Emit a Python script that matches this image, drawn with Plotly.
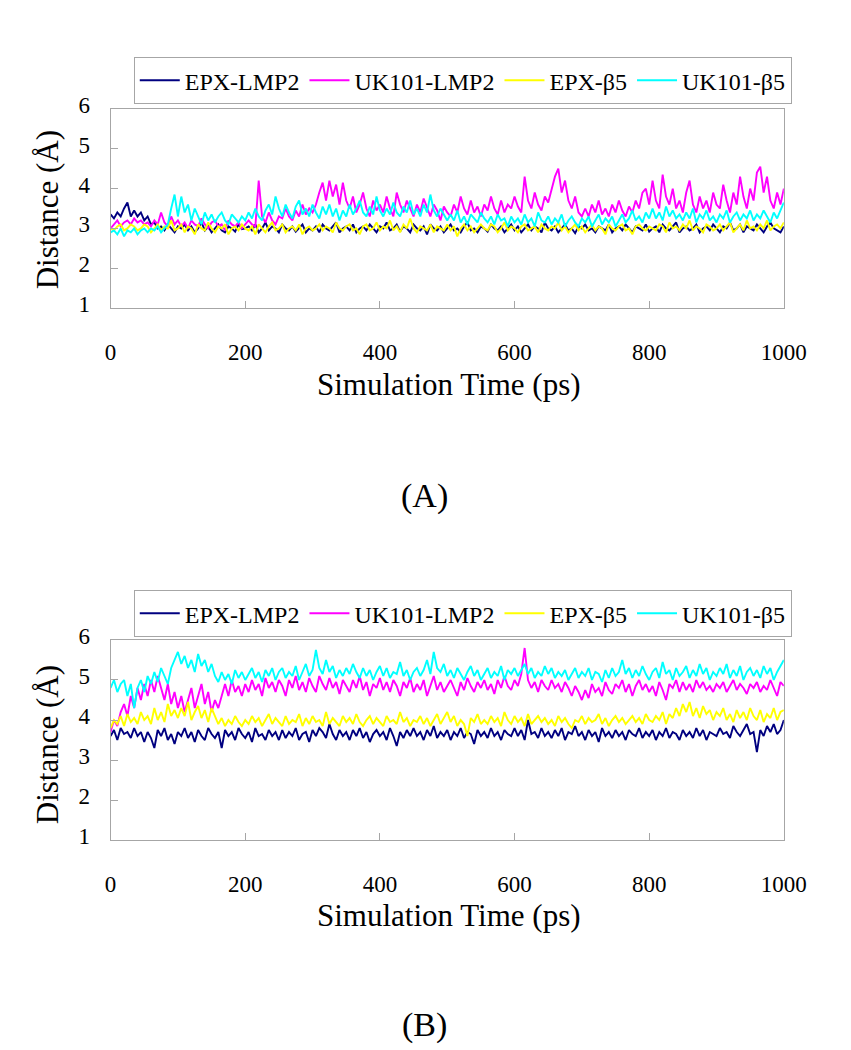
import plotly.graph_objects as go

# ---------------- data ----------------
time_ps = list(range(0, 1001, 5))
series_names = ["EPX-LMP2", "UK101-LMP2", "EPX-β5", "UK101-β5"]
series_colors = ["#000080", "#FF00FF", "#FFFF00", "#00FFFF"]

A_EPX_LMP2 = [3.35,3.25,3.4,3.3,3.5,3.65,3.3,3.45,3.3,3.4,3.2,
    3.3,3.1,3.15,3.0,3.05,2.95,3.1,3.0,2.9,3.05,
    3.0,3.1,2.95,3.05,2.9,3.0,3.15,2.95,3.05,2.9,
    3.0,3.1,2.95,2.9,3.05,3.0,2.92,3.1,2.98,3.0,
    3.05,2.95,3.1,2.9,3.0,3.15,2.95,3.05,3.0,2.9,
    3.1,3.0,2.95,3.05,2.92,3.0,3.1,2.9,3.0,2.95,
    3.05,2.9,3.1,3.0,2.95,3.05,3.15,2.9,3.0,3.05,
    2.95,3.1,2.9,3.0,3.05,2.95,3.1,3.0,2.9,3.05,
    3.0,3.15,2.95,3.0,3.1,2.92,3.05,3.0,2.9,3.1,
    3.0,2.95,3.05,2.85,3.1,3.0,2.95,3.05,2.9,3.0,
    3.1,2.95,3.0,2.9,3.05,3.15,2.95,3.0,2.9,3.05,
    3.0,2.92,3.1,3.0,2.95,3.05,2.9,3.0,3.1,2.95,
    3.05,2.9,3.0,3.1,2.95,3.05,3.0,2.9,3.15,3.0,
    2.95,3.05,2.9,3.0,3.1,2.95,3.0,2.88,3.05,3.0,
    3.1,2.95,3.0,2.9,3.05,3.0,2.95,3.1,2.9,3.0,
    3.05,2.95,3.1,3.0,2.9,3.05,3.0,2.95,3.1,2.92,
    3.0,3.05,2.9,3.1,3.0,2.95,3.05,3.15,2.9,3.0,
    3.05,2.95,3.0,3.1,2.9,3.0,3.05,2.95,3.1,3.0,
    2.9,3.05,3.0,3.15,2.95,3.0,3.1,2.9,3.05,3.0,
    2.95,3.1,3.0,2.9,3.05,3.15,3.0,2.95,2.9,3.05]

A_UK101_LMP2 = [3.0,3.1,3.2,3.05,3.15,3.2,3.1,3.25,3.15,3.2,3.1,
    3.15,3.05,3.2,3.1,3.4,3.15,3.05,3.3,3.1,3.2,
    3.05,3.15,3.0,3.2,3.1,3.05,3.25,3.1,3.0,3.15,
    3.2,3.05,3.1,2.95,3.2,3.1,3.05,3.15,3.0,3.1,
    3.2,3.1,3.05,4.2,3.3,3.15,3.4,3.2,3.1,3.3,
    3.25,3.5,3.3,3.2,3.45,3.3,3.6,3.35,3.5,3.4,
    3.6,3.9,4.15,3.7,4.2,3.8,4.1,3.6,4.15,3.7,
    3.5,3.8,3.4,3.6,3.9,3.5,3.3,3.7,3.45,3.6,
    3.4,3.8,3.5,3.3,3.9,3.6,3.4,3.7,3.5,3.3,
    3.6,3.4,3.75,3.5,3.3,3.6,3.45,3.2,3.55,3.4,
    3.3,3.6,3.4,3.8,3.5,3.35,3.7,3.4,3.55,3.3,
    3.6,3.45,3.8,3.5,3.35,3.7,3.4,3.6,3.5,3.8,
    3.55,3.4,4.3,3.7,3.5,3.9,3.6,3.45,3.8,3.65,
    4.0,4.3,4.5,3.9,4.2,3.7,3.5,3.8,3.4,3.3,
    3.5,3.3,3.6,3.4,3.7,3.35,3.5,3.3,3.6,3.4,
    3.7,3.45,3.3,3.55,3.4,3.7,3.5,3.9,4.0,3.6,
    4.2,3.7,3.5,4.35,3.8,3.6,4.0,3.5,3.7,3.4,
    3.9,4.2,3.6,3.4,3.8,3.5,3.7,3.4,3.9,3.6,
    3.5,4.1,3.7,3.4,3.9,3.6,4.3,3.8,3.5,4.0,
    3.7,4.4,4.55,3.9,4.3,3.7,3.5,3.9,3.6,4.0]

A_EPX_b5 = [3.0,2.95,3.05,3.1,2.95,3.0,3.1,3.05,2.95,3.0,3.1,
    3.05,2.9,3.0,3.1,2.95,3.05,3.0,3.2,2.95,3.0,
    3.1,2.9,3.05,3.0,2.85,3.1,3.0,2.95,3.15,3.0,
    2.9,3.05,3.0,3.1,2.85,3.0,3.05,2.95,3.1,3.0,
    2.95,3.05,2.85,3.1,3.0,2.9,3.05,3.15,2.95,3.0,
    3.1,2.9,3.0,3.05,2.95,3.1,2.85,3.0,3.05,2.95,
    3.0,3.1,2.95,3.05,3.0,2.9,3.15,3.0,2.95,3.05,
    3.1,2.95,3.0,2.85,3.05,3.1,2.95,3.0,3.15,2.95,
    3.05,3.0,3.2,2.95,3.05,2.9,3.1,3.0,3.25,3.0,
    2.9,3.05,3.0,2.95,3.1,2.9,3.05,3.0,2.95,3.1,
    2.95,3.05,2.8,3.0,3.1,2.95,3.05,2.9,3.0,3.1,
    3.0,2.95,3.1,3.05,2.9,3.0,3.15,2.95,3.05,3.0,
    2.9,3.05,3.1,2.95,3.0,3.05,2.9,3.1,3.0,2.95,
    3.05,3.0,3.15,2.95,3.05,2.9,3.0,3.1,2.95,3.05,
    2.9,3.0,3.1,2.95,3.05,3.0,2.85,3.1,3.0,2.95,
    3.05,3.1,2.95,3.0,2.85,3.05,3.1,3.0,2.95,3.05,
    3.0,2.95,3.1,3.05,2.9,3.15,3.0,3.05,2.95,3.1,
    3.0,3.2,2.95,3.05,3.0,2.9,3.1,3.05,2.95,3.0,
    3.1,2.95,3.05,3.15,2.9,3.0,3.1,2.95,3.2,3.0,
    3.05,2.95,3.1,3.0,3.2,2.95,3.05,3.1,3.0,3.15]

A_UK101_b5 = [2.9,2.95,2.85,3.0,2.8,2.95,2.9,3.0,2.85,2.95,3.0,
    2.9,3.0,2.95,3.05,2.9,3.0,3.1,3.5,3.85,3.3,
    3.8,3.4,3.6,3.2,3.5,3.3,3.1,3.4,3.2,3.35,
    3.15,3.3,3.4,3.2,3.1,3.35,3.25,3.15,3.3,3.2,
    3.4,3.25,3.5,3.3,3.2,3.45,3.6,3.35,3.8,3.5,
    3.3,3.6,3.4,3.25,3.55,3.7,3.35,3.5,3.3,3.6,
    3.4,3.25,3.55,3.35,3.6,3.3,3.5,3.2,3.45,3.3,
    3.6,3.35,3.5,3.7,3.4,3.3,3.55,3.35,3.8,3.45,
    3.3,3.5,3.35,3.65,3.4,3.3,3.55,3.4,3.7,3.35,
    3.5,3.3,3.6,3.4,3.85,3.45,3.3,3.5,3.35,3.2,
    3.35,3.2,3.45,3.15,3.3,3.1,3.35,3.25,3.15,3.4,
    3.25,3.15,3.3,3.1,3.35,3.2,3.25,3.05,3.3,3.15,
    3.25,3.1,3.35,3.15,3.25,3.05,3.4,3.2,3.15,3.3,
    3.1,3.25,3.15,3.35,3.05,3.2,3.3,3.15,3.05,3.25,
    3.15,3.3,3.05,3.2,3.35,3.1,3.25,3.15,3.3,3.05,
    3.2,3.35,3.15,3.25,3.45,3.2,3.3,3.15,3.4,3.25,
    3.5,3.25,3.4,3.2,3.55,3.3,3.45,3.25,3.35,3.2,
    3.4,3.25,3.5,3.15,3.35,3.25,3.45,3.2,3.3,3.15,
    3.35,3.25,3.45,3.15,3.3,3.4,3.2,3.35,3.25,3.45,
    3.2,3.35,3.25,3.45,3.3,3.15,3.4,3.25,3.45,3.65]

B_EPX_LMP2 = [3.6,3.75,3.5,3.8,3.65,3.7,3.55,3.8,3.6,3.7,3.45,
    3.7,3.55,3.3,3.75,3.6,3.8,3.5,3.65,3.4,3.7,
    3.6,3.8,3.55,3.7,3.45,3.75,3.6,3.5,3.8,3.65,
    3.55,3.7,3.3,3.75,3.6,3.7,3.5,3.8,3.65,3.55,
    3.7,3.45,3.8,3.6,3.65,3.5,3.75,3.6,3.7,3.5,
    3.75,3.55,3.7,3.6,3.8,3.5,3.65,3.7,3.45,3.75,
    3.6,3.8,3.7,3.55,3.9,3.65,3.5,3.75,3.6,3.7,
    3.5,3.75,3.6,3.8,3.55,3.7,3.45,3.65,3.75,3.6,
    3.7,3.5,3.8,3.6,3.35,3.7,3.55,3.75,3.6,3.8,
    3.6,3.7,3.5,3.75,3.6,3.85,3.55,3.7,3.6,3.75,
    3.5,3.7,3.6,3.8,3.55,3.7,3.65,3.4,3.75,3.6,
    3.7,3.55,3.8,3.6,3.7,3.5,3.75,3.65,3.6,3.8,
    3.6,3.75,3.5,4.0,3.65,3.7,3.55,3.8,3.6,3.7,
    3.55,3.75,3.6,3.8,3.5,3.7,3.65,3.85,3.6,3.7,
    3.5,3.75,3.6,3.7,3.45,3.8,3.6,3.7,3.55,3.75,
    3.6,3.7,3.5,3.75,3.65,3.6,3.8,3.55,3.7,3.6,
    3.75,3.5,3.7,3.6,3.8,3.55,3.7,3.65,3.5,3.75,
    3.6,3.7,3.55,3.8,3.6,3.75,3.5,3.7,3.65,3.6,
    3.8,3.65,3.7,3.55,3.85,3.7,3.6,3.75,3.9,3.65,
    3.7,3.2,3.75,3.6,3.85,3.7,3.9,3.65,3.75,4.0]

B_UK101_LMP2 = [3.7,4.0,3.85,4.2,4.4,4.1,4.6,4.3,4.8,4.5,4.9,
    4.6,5.0,4.7,5.1,4.8,4.5,4.9,4.4,4.7,4.3,
    4.6,4.2,4.5,4.8,4.3,4.6,4.9,4.4,4.7,4.2,
    4.5,4.3,4.6,4.9,4.6,5.0,4.7,4.85,4.6,4.9,
    4.7,5.0,4.75,4.9,4.6,5.05,4.8,4.95,4.7,5.0,
    4.85,4.6,5.0,4.8,5.1,4.75,4.95,4.7,5.05,4.85,
    4.7,5.1,4.9,4.75,5.05,4.8,4.95,4.65,5.0,4.85,
    4.7,5.0,4.8,5.1,4.75,4.95,4.6,4.9,4.8,5.05,
    4.75,4.95,4.7,5.0,4.85,4.6,4.95,4.8,5.05,4.7,
    4.9,4.75,5.0,4.6,4.85,5.1,4.75,4.95,4.7,4.85,
    5.0,4.8,4.6,4.95,4.75,5.05,4.85,4.7,4.95,4.8,
    5.0,4.75,4.9,4.65,5.0,4.8,5.1,4.85,4.75,5.0,
    4.85,5.15,5.8,5.0,4.8,4.95,4.7,5.0,4.85,4.75,
    5.0,4.8,4.9,4.7,4.95,4.8,4.6,4.85,4.7,4.5,
    4.75,4.55,4.9,4.7,4.8,4.6,4.95,4.75,4.65,4.9,
    4.8,5.0,4.7,4.9,4.6,4.85,5.0,4.75,4.9,4.7,
    4.85,4.6,4.95,4.75,4.5,4.9,4.8,5.0,4.7,4.95,
    4.75,4.9,4.7,5.0,4.8,4.95,4.75,4.85,4.7,4.9,
    4.8,4.95,4.7,4.85,5.0,4.75,4.9,4.8,4.65,4.9,
    4.8,4.95,4.7,4.85,4.75,5.0,4.8,4.6,4.95,4.85]

B_EPX_b5 = [3.8,4.0,3.9,4.1,3.85,4.15,3.95,4.05,3.9,4.2,4.0,
    4.1,3.9,4.3,4.0,4.2,3.95,4.4,4.1,4.25,4.05,
    4.3,4.1,4.45,4.0,4.2,4.35,4.05,4.25,3.95,4.3,
    4.1,3.9,4.05,3.85,4.0,3.9,4.1,3.95,3.85,4.0,
    3.9,4.1,3.95,4.05,3.85,4.0,4.15,3.9,4.05,3.95,
    3.85,4.1,3.9,4.0,3.95,4.15,3.85,4.05,3.9,4.1,
    3.95,4.0,3.85,4.2,3.9,4.05,3.95,3.85,4.1,3.95,
    4.05,3.9,4.15,3.95,3.85,4.0,4.1,3.9,4.05,3.95,
    3.85,4.1,3.95,4.0,3.9,4.2,3.95,4.05,3.85,4.0,
    3.95,4.1,3.9,4.05,3.85,4.0,4.15,3.9,4.05,4.2,
    3.95,4.1,3.85,4.0,3.9,3.6,4.05,3.95,4.15,3.9,
    4.0,3.9,4.1,3.95,4.05,3.85,4.2,4.0,3.9,4.1,
    3.95,4.05,3.85,4.15,3.9,4.0,4.1,3.95,4.05,3.9,
    4.0,3.85,4.1,3.95,4.05,3.9,3.8,4.0,3.95,4.1,
    3.9,4.05,3.95,4.0,4.15,3.9,4.05,3.85,4.0,4.1,
    3.95,4.05,3.9,4.0,4.1,3.95,4.05,3.9,4.15,4.0,
    3.95,4.1,4.0,4.2,3.9,4.15,4.05,4.3,4.1,4.4,
    4.2,4.45,4.1,4.3,4.05,4.35,4.15,4.25,4.0,4.2,
    4.1,4.3,4.0,4.15,3.95,4.25,4.05,4.2,4.0,4.3,
    4.1,4.0,4.25,3.95,4.15,4.05,4.3,4.0,4.2,4.25]

B_UK101_b5 = [4.8,5.0,4.7,4.9,5.0,4.6,4.9,4.3,4.8,5.0,4.7,
    5.1,4.9,5.2,4.95,5.3,5.1,4.9,5.3,5.5,5.7,
    5.4,5.6,5.3,5.5,5.2,5.65,5.35,5.5,5.2,5.4,
    5.1,4.95,5.2,5.0,5.15,4.9,5.25,5.05,5.2,5.0,
    5.15,5.3,5.05,5.2,4.95,5.25,5.1,5.3,5.0,5.2,
    5.3,5.05,5.2,5.1,5.35,5.0,5.2,5.4,5.1,5.25,
    5.75,5.3,5.15,5.5,5.2,5.35,5.05,5.25,5.1,5.3,
    5.15,5.4,5.2,5.05,5.3,5.1,5.25,5.0,5.2,5.35,
    5.1,5.3,5.05,5.2,5.15,5.45,5.1,5.25,5.0,5.2,
    5.3,5.1,5.25,5.5,5.15,5.7,5.3,5.2,5.4,5.1,
    5.25,5.05,5.3,5.15,5.0,5.2,5.35,5.1,5.25,5.0,
    5.15,5.3,5.05,5.2,5.1,5.35,5.0,5.25,5.15,5.3,
    5.1,5.25,5.4,5.15,5.3,5.05,5.2,5.1,5.35,5.15,
    5.3,5.05,5.2,5.1,5.25,5.0,5.15,5.3,5.05,5.2,
    5.1,5.3,5.0,5.2,5.15,4.95,5.25,5.05,5.3,5.1,
    5.2,5.5,5.15,5.3,5.05,5.25,5.1,5.35,5.15,5.0,
    5.2,5.3,5.05,5.45,5.15,5.25,5.0,5.3,5.1,5.2,
    5.35,5.05,5.25,5.1,5.4,5.15,5.3,5.0,5.2,5.1,
    5.3,5.15,5.4,5.05,5.25,5.1,5.35,5.0,5.2,5.3,
    5.1,5.25,5.05,5.35,5.15,5.3,5.0,5.2,5.35,5.5]

x_ticks = [0, 200, 400, 600, 800, 1000]
y_ticks = [1, 2, 3, 4, 5, 6]

# ---------------- figure ----------------
W, H = 851, 1050
FONT = "Liberation Serif"

def px_x(p):
    return p / W

def px_y(p):
    return 1 - p / H

fig = go.Figure()

panelA = [A_EPX_LMP2, A_UK101_LMP2, A_EPX_b5, A_UK101_b5]
panelB = [B_EPX_LMP2, B_UK101_LMP2, B_EPX_b5, B_UK101_b5]

for name, col, ys in zip(series_names, series_colors, panelA):
    fig.add_trace(go.Scatter(x=time_ps, y=ys, mode="lines", name=name,
                             line=dict(color=col, width=1.9),
                             xaxis="x", yaxis="y", legend="legend"))
for name, col, ys in zip(series_names, series_colors, panelB):
    fig.add_trace(go.Scatter(x=time_ps, y=ys, mode="lines", name=name,
                             line=dict(color=col, width=1.9),
                             xaxis="x2", yaxis="y2", legend="legend2"))

AX = "#A6A6A6"
common_x = dict(range=[0, 1000], tickvals=x_ticks, ticks="inside", ticklen=7,
                tickcolor=AX, showline=True, linecolor=AX, linewidth=1,
                mirror=True, showgrid=False, zeroline=False,
                tickfont=dict(family=FONT, size=23, color="black"),
                ticklabelstandoff=23)
common_y = dict(range=[1, 6], tickvals=y_ticks, ticks="inside", ticklen=7,
                tickcolor=AX, showline=True, linecolor=AX, linewidth=1,
                mirror=True, showgrid=False, zeroline=False,
                tickfont=dict(family=FONT, size=23, color="black"),
                ticklabelstandoff=15, ticklabelshift=-4)

legend_common = dict(orientation="h", xanchor="left", yanchor="top",
                     bordercolor=AX, borderwidth=1, bgcolor="white",
                     font=dict(family=FONT, size=24, color="black"),
                     itemwidth=40, tracegroupgap=0)

xdom = [px_x(100), px_x(797)]
fig.update_layout(
    width=W, height=H,
    margin=dict(l=0, r=0, t=0, b=0),
    paper_bgcolor="white", plot_bgcolor="white",
    font=dict(family=FONT, color="black"),
    xaxis=dict(domain=xdom, anchor="y", **common_x),
    yaxis=dict(domain=[px_y(291), px_y(87)], anchor="x", **common_y),
    xaxis2=dict(domain=xdom, anchor="y2", **common_x),
    yaxis2=dict(domain=[px_y(836), px_y(631)], anchor="x2", **common_y),
    legend=dict(x=px_x(124), y=px_y(34), **legend_common),
    legend2=dict(x=px_x(124), y=px_y(580), **legend_common),
    showlegend=True,
)

annotations = [
    dict(text="Distance (Å)", x=px_x(35), y=px_y(190), textangle=-90, size=31),
    dict(text="Distance (Å)", x=px_x(35), y=px_y(738), textangle=-90, size=31),
    dict(text="Simulation Time (ps)", x=px_x(450), y=px_y(369), size=31),
    dict(text="Simulation Time (ps)", x=px_x(450), y=px_y(913), size=31),
    dict(text="(A)", x=px_x(425), y=px_y(484), size=34),
    dict(text="(B)", x=px_x(425), y=px_y(1025), size=34),
]
for a in annotations:
    sz = a.pop("size")
    fig.add_annotation(xref="paper", yref="paper", showarrow=False,
                       xanchor="center", yanchor="middle",
                       font=dict(family=FONT, size=sz, color="black"), **a)

fig.write_html("out.html")
